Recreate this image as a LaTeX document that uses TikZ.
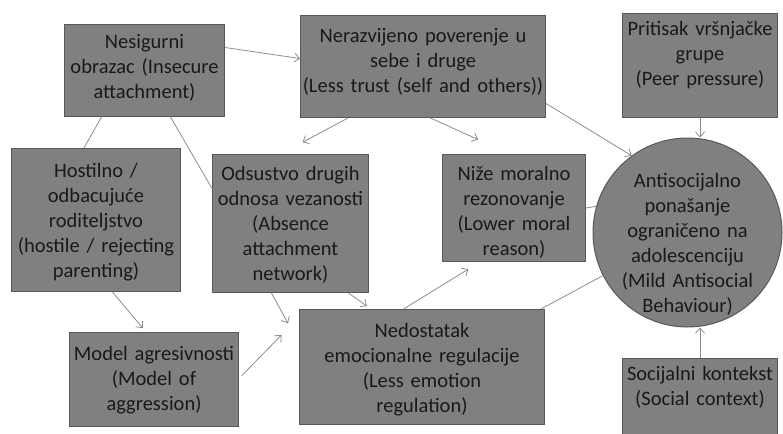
\documentclass[tikz,border=0pt]{standalone}
\usepackage{fontspec}
\setmainfont{Carlito}
\usetikzlibrary{arrows.meta}
\definecolor{kastengrau}{RGB}{128,128,128}
\definecolor{randgrau}{RGB}{88,88,88}
\definecolor{liniengrau}{RGB}{140,140,140}
\definecolor{textgrau}{RGB}{25,25,25}
\begin{document}
\begin{tikzpicture}[x=1pt,y=-1pt,
  kasten/.style={draw=randgrau, line width=1pt, fill=kastengrau, text=textgrau,
    align=center, inner xsep=0pt, inner ysep=0pt, anchor=north west,
    font=\fontsize{20.5}{25}\selectfont},
  linie/.style={draw=liniengrau, line width=0.8pt},
  pfeil/.style={linie, -{Straight Barb[length=5pt,width=9pt]}}]
  \useasboundingbox (0,0) rectangle (783,433);
  \clip (0,0) rectangle (783,433);
  % Kästen oben
  \node[kasten, text width=160pt, text height=24pt, text depth=68pt] (nes) at (64,24)
    {Nesigurni\\obrazac (Insecure\\attachment)};
  \node[kasten, text width=245pt, text height=27pt, text depth=75pt] (ner) at (300,15)
    {Nerazvijeno poverenje u\\sebe i druge\\(Less trust (self and others))};
  \node[kasten, text width=155pt, text height=22pt, text depth=82pt] (pri) at (622,13)
    {Pritisak vršnjačke\\grupe\\(Peer pressure)};
  % Kästen Mitte
  \node[kasten, text width=169pt, text height=29pt, text depth=114pt] (hos) at (11,148)
    {Hostilno /\\odbacujuće\\roditeljstvo\\(hostile / rejecting\\parenting)};
  \node[kasten, text width=156pt, text height=26pt, text depth=112pt] (ods) at (212,154)
    {Odsustvo drugih\\odnosa vezanosti\\(Absence\\attachment\\network)};
  \node[kasten, text width=143pt, text height=26pt, text depth=81pt] (niz) at (442,154)
    {Niže moralno\\rezonovanje\\(Lower moral\\reason)};
  % Kreis
  \node[kasten, circle, anchor=center, text width=140pt, text height=14pt, text depth=105pt,
    minimum size=189pt] (ant) at (687.5,232.5)
    {Antisocijalno\\ponašanje\\ograničeno na\\adolescenciju\\(Mild Antisocial\\Behaviour)};
  % Kästen unten
  \node[kasten, text width=169pt, text height=28pt, text depth=66pt] (mod) at (69,332)
    {Model agresivnosti\\(Model of\\aggression)};
  \node[kasten, text width=245pt, text height=28pt, text depth=87pt] (ned) at (299,309)
    {Nedostatak\\emocionalne regulacije\\(Less emotion\\regulation)};
  \node[kasten, text width=155pt, text height=22pt, text depth=72pt] (soc) at (622,358)
    {Socijalni kontekst\\(Social context)};
  % Verbindungen
  \draw[pfeil] ([yshift=23pt]nes.east) -- ([yshift=8pt]ner.west);
  \draw[linie] ([xshift=-43pt]nes.south) -- ([xshift=-12pt]hos.north);
  \draw[linie] ([xshift=26pt]nes.south) -- ([yshift=35pt]ods.west);
  \draw[pfeil, shorten >=25pt] ([xshift=-75pt]ner.south) -- ([xshift=-10pt]ods.north);
  \draw[pfeil, shorten >=35pt] ([xshift=7.5pt]ner.south) -- ([xshift=-4pt]niz.north);
  \draw[pfeil] ([yshift=-37pt]ner.east) -- (ant.126);
  \draw[pfeil] (pri.south) -- (pri.south |- ant.north);
  \draw[linie] (niz.east) -- (ant.164);
  \draw[pfeil, shorten >=5pt] ([xshift=16.5pt]hos.south) -- ([xshift=-8pt]mod.north);
  \draw[pfeil, shorten >=23pt] ([xshift=-19pt]ods.south) -- ([yshift=23.5pt]ned.west);
  \draw[pfeil, shorten >=5pt] ([xshift=58pt]ods.south) -- ([xshift=-51pt]ned.north);
  \draw[pfeil, shorten <=4pt, shorten >=25pt] ([yshift=1pt]mod.east) -- ([yshift=50pt]ned.west);
  \draw[pfeil, shorten >=13.6pt] ([xshift=-18.5pt]ned.north) -- ([xshift=-34pt]niz.south);
  \draw[linie] ([xshift=-4pt]ned.north east) -- (ant.207);
  \draw[pfeil] (soc.north) -- (soc.north |- ant.south);
\end{tikzpicture}
\end{document}
